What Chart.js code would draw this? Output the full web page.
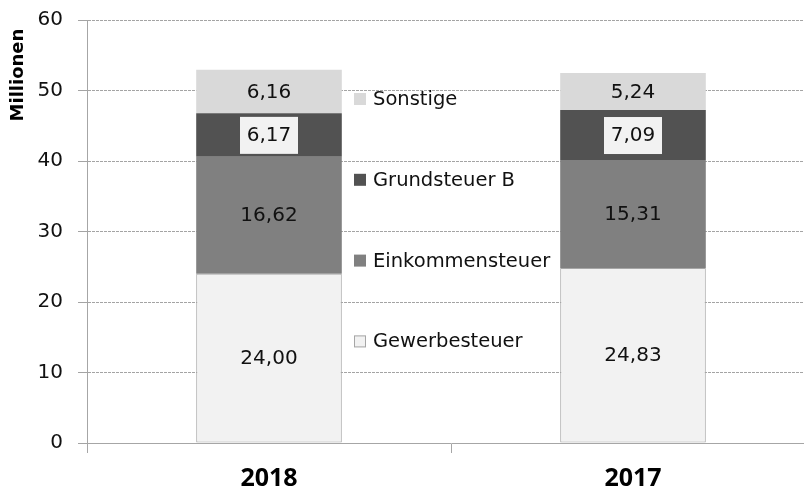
<!DOCTYPE html>
<html>
<head>
<meta charset="utf-8">
<script src="https://cdn.jsdelivr.net/npm/chart.js@4/dist/chart.umd.min.js"></script>
<style>
  html, body { margin: 0; padding: 0; background: #fff; overflow: hidden; }
  #wrap { width: 820px; height: 492px; position: relative; }
</style>
</head>
<body>
<div id="wrap"><canvas id="chart"></canvas></div>
<script>
// Data (Millionen)
const years = ['2018', '2017'];
const gewerbesteuer = [24.00, 24.83];
const einkommensteuer = [16.62, 15.31];
const grundsteuerB = [6.17, 7.09];
const sonstige = [6.16, 5.24];
const seriesNames = ['Gewerbesteuer', 'Einkommensteuer', 'Grundsteuer B', 'Sonstige'];
const seriesColors = ['#f2f2f2', '#808080', '#525252', '#d9d9d9'];
const yMin = 0, yMax = 60, yStep = 10;

const fmt = v => v.toFixed(2).replace('.', ',');

// value labels inside each segment
const valueLabels = {
    id: 'valueLabels',
    afterDatasetsDraw(chart) {
        const ctx = chart.ctx;
        ctx.save();
        ctx.font = '20px "DejaVu Sans"';
        ctx.textAlign = 'center';
        ctx.textBaseline = 'middle';
        chart.data.datasets.forEach((ds, i) => {
            const meta = chart.getDatasetMeta(i);
            meta.data.forEach((bar, j) => {
                const p = bar.getProps(['x', 'y', 'base'], true);
                const cy = (p.y + p.base) / 2;
                const txt = fmt(ds.data[j]);
                if (ds.labelBox) {
                    ctx.fillStyle = '#f2f2f2';
                    ctx.fillRect(p.x - 29, cy - 18, 58, 37);
                }
                ctx.fillStyle = '#111';
                ctx.fillText(txt, p.x, cy + 1);
            });
        });
        ctx.restore();
    }
};

// legend placed between the two bars
const middleLegend = {
    id: 'middleLegend',
    afterDraw(chart) {
        const ctx = chart.ctx;
        const area = chart.chartArea;
        const x0 = area.left + 267;
        const y0 = area.top + 79;
        const step = 80.8;
        ctx.save();
        ctx.font = '19.5px "DejaVu Sans"';
        ctx.textBaseline = 'middle';
        ctx.textAlign = 'left';
        const order = chart.data.datasets.map((d, i) => i).reverse();
        order.forEach((i, k) => {
            const ds = chart.data.datasets[i];
            const y = y0 + k * step;
            ctx.fillStyle = ds.backgroundColor;
            ctx.fillRect(x0, y - 6, 12, 12);
            if (ds.borderWidth) {
                ctx.strokeStyle = ds.borderColor;
                ctx.lineWidth = 1;
                ctx.strokeRect(x0 + 0.5, y - 5.5, 11, 11);
            }
            ctx.fillStyle = '#111';
            ctx.fillText(ds.label, x0 + 19, y + 1);
        });
        ctx.restore();
    }
};

// rotated axis title at the top left
const yTitle = {
    id: 'yTitle',
    afterDraw(chart) {
        const ctx = chart.ctx;
        ctx.save();
        ctx.translate(18, 75);
        ctx.rotate(-Math.PI / 2);
        ctx.font = 'bold 18px "DejaVu Sans"';
        ctx.fillStyle = '#000';
        ctx.textAlign = 'center';
        ctx.textBaseline = 'middle';
        ctx.fillText('Millionen', 0, 0);
        ctx.restore();
    }
};

const values = [gewerbesteuer, einkommensteuer, grundsteuerB, sonstige];

new Chart(document.getElementById('chart'), {
    type: 'bar',
    data: {
        labels: years,
        datasets: values.map((v, i) => ({
            label: seriesNames[i],
            data: v,
            backgroundColor: seriesColors[i],
            borderColor: i === 0 ? '#a6a6a6' : seriesColors[i],
            borderWidth: i === 0 ? 1 : 0,
            borderSkipped: false,
            labelBox: i === 2,
            barPercentage: 0.4,
            categoryPercentage: 1.0
        }))
    },
    options: {
        responsive: true,
        maintainAspectRatio: false,
        animation: false,
        layout: { padding: { top: 20, right: 5, left: 0, bottom: 0 } },
        plugins: {
            legend: { display: false },
            tooltip: { enabled: false }
        },
        scales: {
            x: {
                stacked: true,
                grid: {
                    offset: true,
                    drawOnChartArea: false,
                    drawTicks: true,
                    tickLength: 10,
                    color: '#a6a6a6'
                },
                border: { display: true, color: '#a6a6a6' },
                ticks: {
                    color: '#000',
                    font: { family: 'Open Sans', size: 25, weight: 'bold' },
                    padding: 11
                },
                afterFit(scale) {
                    scale.height = 49;
                    scale.paddingLeft = 0;
                    scale.paddingRight = 0;
                }
            },
            y: {
                stacked: true,
                min: yMin,
                max: yMax,
                grid: {
                    color: '#a4a4a4',
                    tickLength: 9,
                    drawTicks: true
                },
                border: { display: true, color: '#a6a6a6', dash: [3, 1] },
                ticks: {
                    stepSize: yStep,
                    color: '#111',
                    font: { family: 'DejaVu Sans', size: 20 },
                    padding: 15
                },
                afterFit(scale) {
                    scale.width = 87;
                    scale.paddingTop = 0;
                    scale.paddingBottom = 0;
                }
            }
        }
    },
    plugins: [valueLabels, middleLegend, yTitle]
});
</script>
</body>
</html>
